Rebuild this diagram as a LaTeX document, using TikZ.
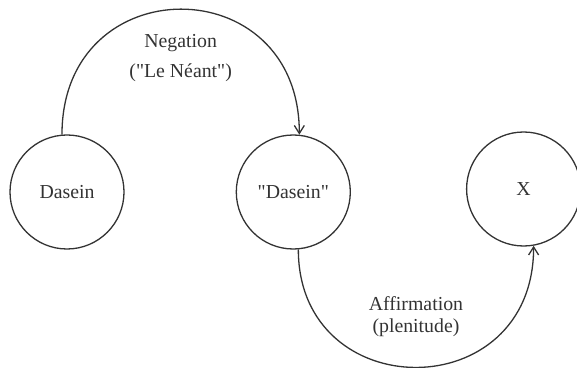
\documentclass[tikz,border=0pt]{standalone}
\usepackage{fontspec}
\setmainfont{Liberation Serif}
\usetikzlibrary{arrows.meta,positioning}
\definecolor{Ink}{HTML}{333333}

\begin{document}
\begin{tikzpicture}[x=0.5pt,y=-0.5pt,
    state/.style={circle,draw=Ink,line width=0.65pt,minimum size=57pt,inner sep=0pt,
      font=\fontsize{9.9}{15}\selectfont,text=Ink},
    lbl/.style={align=center,inner sep=0pt,font=\fontsize{9.9}{15}\selectfont,text=Ink},
    arr/.style={-{Straight Barb[length=4pt,width=5pt]},line width=0.65pt,Ink}
  ]
    \useasboundingbox (0,0) rectangle (577,368);
    \node[state] (dasein) at (67,192) {Dasein};
    \node[state,right=55.5pt of dasein] (quoted) {\textquotedbl Dasein\textquotedbl};
    \node[state,right=57.5pt of quoted,yshift=1.5pt] (x) {X};
    \draw[arr] (dasein.95) .. controls +(0,-167) and +(0,-167) ..
      node[lbl,below=12pt] {Negation\\(\textquotedbl Le Néant\textquotedbl)} (quoted.84);
    \draw[arr] (quoted.-85) .. controls +(0,157) and +(0,162) ..
      node[lbl,above=15pt,font=\fontsize{9.9}{11}\selectfont] {Affirmation\\(plenitude)} (x.-80);
  \end{tikzpicture}
\end{document}
